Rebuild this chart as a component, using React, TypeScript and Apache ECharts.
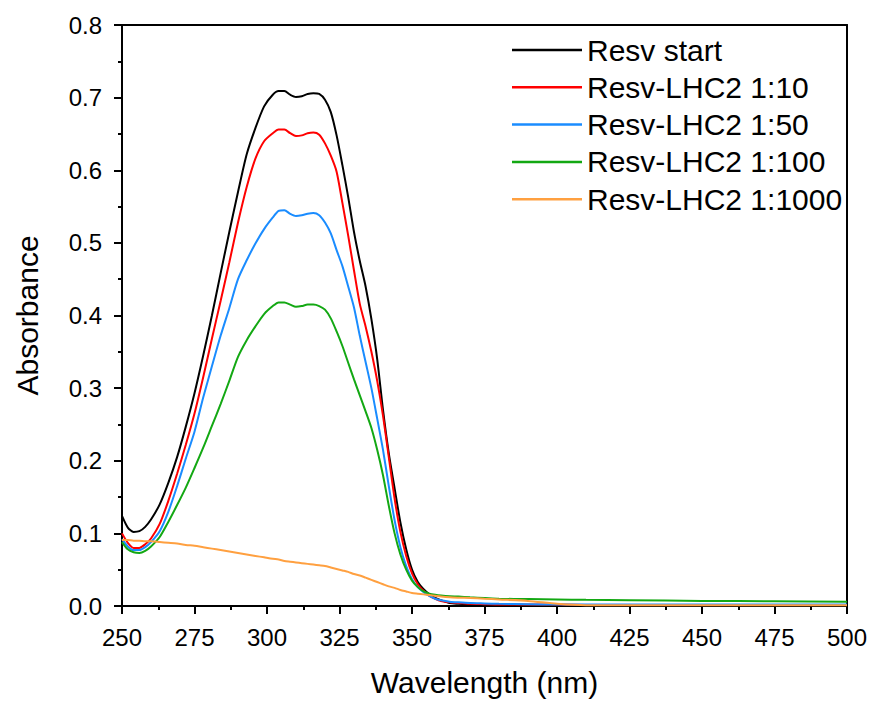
import React, { useEffect, useRef } from "react";
import * as echarts from "echarts";

const wavelengths = [
  250, 252, 254, 256, 258, 260,
  263, 266, 269, 272, 275, 278, 281, 284, 287, 290, 293, 296, 299,
  302, 304, 306, 308, 310, 312, 314, 316, 318, 320, 322, 324, 326, 328, 330,
  332, 334, 336, 338, 340, 342, 344, 346, 348, 350, 352, 354, 356, 358, 360,
  363, 366, 370, 375, 380, 390, 400, 410, 425, 450, 475, 500,
];

const resvStart = [
  0.124, 0.108, 0.102, 0.103, 0.109, 0.119,
  0.14, 0.17, 0.205, 0.247, 0.293, 0.345, 0.4, 0.458, 0.515, 0.57, 0.622, 0.658, 0.688,
  0.704, 0.709, 0.709, 0.704, 0.701, 0.702, 0.705, 0.706, 0.705, 0.697, 0.68, 0.648, 0.607, 0.563, 0.515,
  0.475, 0.44, 0.395, 0.34, 0.27, 0.21, 0.162, 0.115, 0.078, 0.05, 0.033, 0.023, 0.016, 0.011, 0.008,
  0.004, 0.003, 0.002, 0.0015, 0.0012, 0.001, 0.001, 0.001, 0.001, 0.001, 0.001, 0.001,
];

const lhc2_10 = [
  0.1, 0.087, 0.08, 0.08, 0.085, 0.093,
  0.113, 0.145, 0.182, 0.222, 0.265, 0.315, 0.368, 0.42, 0.473, 0.528, 0.577, 0.616, 0.64,
  0.651, 0.656, 0.656, 0.651, 0.647, 0.648, 0.651, 0.652, 0.649, 0.637, 0.62, 0.598, 0.555, 0.51, 0.462,
  0.416, 0.385, 0.35, 0.31, 0.262, 0.205, 0.148, 0.102, 0.069, 0.045, 0.03, 0.021, 0.014, 0.01, 0.007,
  0.005, 0.004, 0.003, 0.0025, 0.002, 0.002, 0.002, 0.0015, 0.0015, 0.0015, 0.0015, 0.0015,
];

const lhc2_50 = [
  0.092, 0.082, 0.077, 0.077, 0.081, 0.088,
  0.103, 0.13, 0.165, 0.203, 0.24, 0.287, 0.33, 0.372, 0.41, 0.45, 0.476, 0.499, 0.519,
  0.535, 0.544, 0.545, 0.54, 0.537, 0.538, 0.54, 0.541, 0.538, 0.528, 0.513, 0.49, 0.468, 0.44, 0.411,
  0.372, 0.336, 0.3, 0.258, 0.215, 0.165, 0.118, 0.081, 0.055, 0.037, 0.026, 0.019, 0.014, 0.01, 0.008,
  0.006, 0.005, 0.004, 0.0035, 0.003, 0.0025, 0.002, 0.002, 0.002, 0.002, 0.002, 0.002,
];

const lhc2_100 = [
  0.088, 0.078, 0.074, 0.073, 0.076, 0.082,
  0.095, 0.116, 0.139, 0.163, 0.19, 0.218, 0.248, 0.278, 0.31, 0.343, 0.366, 0.385, 0.402,
  0.413, 0.418, 0.418, 0.415, 0.412, 0.413, 0.415, 0.415, 0.413, 0.408, 0.396, 0.378, 0.358, 0.335, 0.312,
  0.29, 0.268, 0.245, 0.215, 0.18, 0.138, 0.1, 0.071, 0.05, 0.035, 0.026, 0.02, 0.017, 0.0155, 0.0145,
  0.0135, 0.013, 0.012, 0.011, 0.01, 0.0095, 0.009, 0.0085, 0.008, 0.007, 0.0065, 0.006,
];

const lhc2_1000 = [
  0.091, 0.091, 0.09, 0.09, 0.089, 0.089,
  0.088, 0.087, 0.086, 0.084, 0.083, 0.081, 0.079, 0.077, 0.075, 0.073, 0.071, 0.069, 0.067,
  0.065, 0.064, 0.062, 0.061, 0.06, 0.059, 0.058, 0.057, 0.056, 0.055, 0.053, 0.051, 0.049, 0.047, 0.044,
  0.042, 0.039, 0.036, 0.033, 0.03, 0.027, 0.025, 0.022, 0.02, 0.018, 0.017, 0.016, 0.015, 0.014, 0.013,
  0.012, 0.0115, 0.011, 0.01, 0.009, 0.007, 0.003, 0.001, 0.001, 0.001, 0.001, 0.001,
];

const seriesNames = [
  "Resv start",
  "Resv-LHC2 1:10",
  "Resv-LHC2 1:50",
  "Resv-LHC2 1:100",
  "Resv-LHC2 1:1000",
];
const seriesValues = [resvStart, lhc2_10, lhc2_50, lhc2_100, lhc2_1000];
const seriesColors = ["#000000", "#ff0000", "#1a8cff", "#13a813", "#ffa040"];

const FONT = "'Liberation Sans', Arial, sans-serif";

export default function App() {
  const ref = useRef<HTMLDivElement>(null);

  useEffect(() => {
    if (!ref.current) return;
    const chart = echarts.init(ref.current, undefined, { renderer: "svg" });
    const frameAxisLine = { show: true, lineStyle: { color: "#000", width: 2 } };
    chart.setOption({
      animation: false,
      backgroundColor: "#ffffff",
      textStyle: { fontFamily: FONT },
      grid: { left: 122, right: 25, top: 25, bottom: 93, containLabel: false },
      legend: {
        orient: "vertical",
        left: 507,
        top: 30,
        itemWidth: 70,
        itemHeight: 2.5,
        itemGap: 7.3,
        icon: "rect",
        data: seriesNames,
        textStyle: {
          fontSize: 30,
          fontFamily: FONT,
          color: "#000",
          lineHeight: 30,
          padding: [0, 0, 0, 0],
        },
      },
      xAxis: [
        {
          type: "value",
          min: 250,
          max: 500,
          interval: 25,
          name: "Wavelength (nm)",
          nameLocation: "middle",
          nameGap: 61,
          nameTextStyle: { fontSize: 30, color: "#000", fontFamily: FONT },
          axisLine: { show: true, onZero: false, lineStyle: { color: "#000", width: 2 } },
          axisTick: { show: true, inside: false, length: 8, lineStyle: { color: "#000", width: 2 } },
          minorTick: { show: true, splitNumber: 2, length: 4, lineStyle: { color: "#000", width: 2 } },
          axisLabel: { fontSize: 24, color: "#000", margin: 19, fontFamily: FONT },
          splitLine: { show: false },
        },
        {
          type: "value",
          position: "top",
          min: 250,
          max: 500,
          axisLine: { ...frameAxisLine, onZero: false },
          axisTick: { show: false },
          axisLabel: { show: false },
          splitLine: { show: false },
        },
      ],
      yAxis: [
        {
          type: "value",
          min: 0,
          max: 0.8,
          interval: 0.1,
          name: "Absorbance",
          nameLocation: "middle",
          nameRotate: 90,
          nameGap: 80,
          nameTextStyle: { fontSize: 30, color: "#000", fontFamily: FONT },
          axisLine: { show: true, onZero: false, lineStyle: { color: "#000", width: 2 } },
          axisTick: { show: true, inside: false, length: 8, lineStyle: { color: "#000", width: 2 } },
          minorTick: { show: true, splitNumber: 2, length: 4, lineStyle: { color: "#000", width: 2 } },
          axisLabel: {
            fontSize: 24,
            color: "#000",
            margin: 20,
            fontFamily: FONT,
            formatter: (v: number) => v.toFixed(1),
          },
          splitLine: { show: false },
        },
        {
          type: "value",
          position: "right",
          min: 0,
          max: 0.8,
          axisLine: { ...frameAxisLine, onZero: false },
          axisTick: { show: false },
          axisLabel: { show: false },
          splitLine: { show: false },
        },
      ],
      series: seriesNames.map((name, i) => ({
        name,
        type: "line",
        xAxisIndex: 0,
        yAxisIndex: 0,
        data: wavelengths.map((w, j) => [w, seriesValues[i][j]]),
        symbol: "none",
        showSymbol: false,
        smooth: 0.25,
        color: seriesColors[i],
        lineStyle: { color: seriesColors[i], width: 2 },
      })),
    });
    return () => chart.dispose();
  }, []);

  return (
    <div
      ref={ref}
      style={{ width: 872, height: 702, position: "absolute", left: 0, top: 0 }}
    />
  );
}
